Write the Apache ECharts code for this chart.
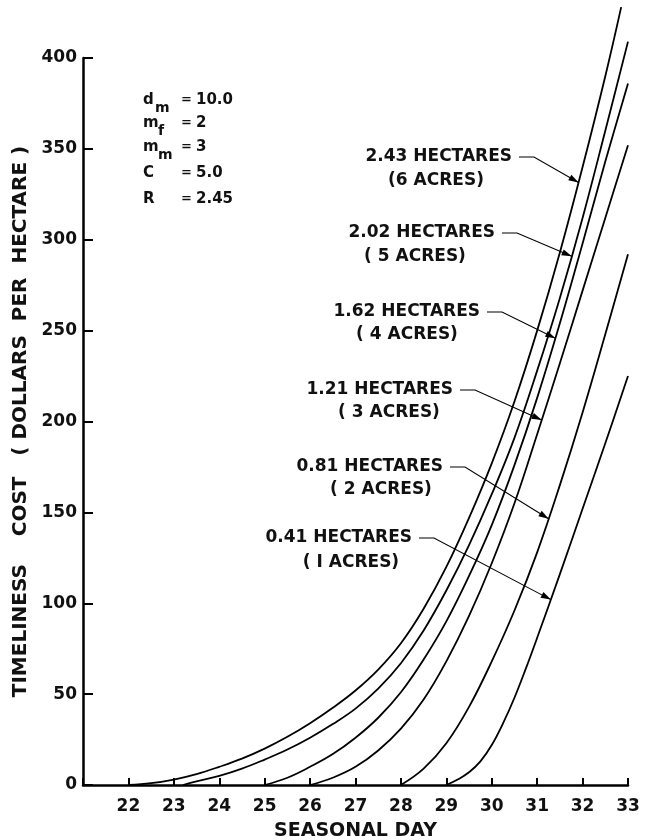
<!DOCTYPE html>
<html><head><meta charset="utf-8">
<script src="https://cdn.jsdelivr.net/npm/echarts@6/dist/echarts.min.js"></script>
<style>html,body{margin:0;padding:0;background:#fff}#c{width:648px;height:840px}</style>
</head><body><div id="c"></div>
<script>
// ---- data ----
const xTicks = [22,23,24,25,26,27,28,29,30,31,32,33];
const yTicks = [0,50,100,150,200,250,300,350,400];
const hectareLabels = ['2.43 HECTARES','2.02 HECTARES','1.62 HECTARES','1.21 HECTARES','0.81 HECTARES','0.41 HECTARES'];
const acreLabels = ['(6 ACRES)','( 5 ACRES)','( 4 ACRES)','( 3 ACRES)','( 2 ACRES)','( I ACRES)'];

const day243  = [22,22.5,23,23.5,24,24.5,25,25.5,26,26.5,27,27.5,28,28.5,29,29.5,30,30.5,31,31.5,32,32.5,32.85];
const cost243 = [0,1,3,6,10,14.5,20,26.5,34,42.5,52,63.5,78,97,120,147,177,211,250,293,340,390,428];
const day202  = [23.2,23.5,24,24.5,25,25.5,26,26.5,27,27.5,28,28.5,29,29.5,30,30.5,31,31.5,32,32.5,33];
const cost202 = [0,2,5,9,14,19.5,26,33.5,42,53,67,85,107,132,160,191,228,268,312,360,409];
const day162  = [25,25.5,26,26.5,27,27.5,28,28.5,29,29.5,30,30.5,31,31.5,32,32.5,33];
const cost162 = [0,4,10,17,26,37,51,69,90,115,143,176,213,254,298,343,386];
const day121  = [26,26.5,27,27.5,28,28.5,29,29.5,30,30.5,31,31.5,32,32.5,33];
const cost121 = [0,4,10,19,31,47,68,93,122,155,193,232,272,312,352];
const day081  = [28,28.5,29,29.5,30,30.5,31,31.5,32,32.5,33];
const cost081 = [0,9,23,43,68,96,128,165,205,248,292];
const day041  = [29,29.25,29.5,29.75,30,30.25,30.5,30.75,31,31.5,32,32.5,33];
const cost041 = [0,3,7,13,22,34,48,64,81,116,152,188,225];

const paramNames = ['d','m','m','C','R'];
const paramSubs  = ['m','f','m','',''];
const paramVals  = ['10.0','2','3','5.0','2.45'];

// ---- build ----
const curves = [[day243,cost243],[day202,cost202],[day162,cost162],[day121,cost121],[day081,cost081],[day041,cost041]];
const tipDays = [31.91,31.76,31.40,31.10,31.25,31.30];

const FONT = 'DejaVu Sans';
const chart = echarts.init(document.getElementById('c'), null, {renderer:'canvas'});

const series = curves.map((c,i)=>({
  type:'line', name:hectareLabels[i],
  data:c[0].map((d,j)=>[d,c[1][j]]),
  showSymbol:false, smooth:0.4, clip:false,
  lineStyle:{color:'#000', width:1.8}, silent:true, z:3
}));

chart.setOption({
  animation:false,
  backgroundColor:'#fff',
  grid:{left:83, right:20, top:58, bottom:55, containLabel:false, outerBoundsMode:'none'},
  xAxis:{
    type:'value', min:21, max:33, interval:1,
    name:'SEASONAL DAY', nameLocation:'middle', nameGap:37,
    nameTextStyle:{fontFamily:FONT, fontSize:19, fontWeight:'bold', color:'#111'},
    axisLine:{lineStyle:{color:'#000', width:2.5}},
    axisTick:{inside:true, length:7, lineStyle:{color:'#000', width:2}},
    axisLabel:{margin:13, fontFamily:FONT, fontSize:17, fontWeight:'bold', color:'#111',
      formatter:v=> xTicks.indexOf(v)>=0 ? String(v) : ''},
    splitLine:{show:false}
  },
  yAxis:{
    type:'value', min:0, max:400, interval:50,
    name:'TIMELINESS    COST   ( DOLLARS  PER  HECTARE )', nameLocation:'middle', nameGap:52, nameRotate:90,
    nameTextStyle:{fontFamily:FONT, fontSize:20, fontWeight:'bold', color:'#111'},
    axisLine:{lineStyle:{color:'#000', width:2.5}},
    axisTick:{inside:true, length:10, lineStyle:{color:'#000', width:2}},
    axisLabel:{margin:6, fontFamily:FONT, fontSize:17, fontWeight:'bold', color:'#111',
      formatter:v=> yTicks.indexOf(v)>=0 ? String(v) : ''},
    splitLine:{show:false}
  },
  series:series
});

// ---- annotations ----
function interp(xs, ys, x){
  for(let i=0;i<xs.length-1;i++){
    if(x>=xs[i] && x<=xs[i+1]){const t=(x-xs[i])/(xs[i+1]-xs[i]);return ys[i]+t*(ys[i+1]-ys[i]);}
  }
  return ys[ys.length-1];
}
// label layout (pixels): right end of first line, its y; centre x of second line, its y
const labelLayout = [
  {r:512, y:157, cx:436, y2:181},
  {r:495, y:233, cx:415, y2:257},
  {r:480, y:312, cx:407, y2:335},
  {r:453, y:390, cx:389, y2:413},
  {r:443, y:467, cx:381, y2:490},
  {r:412, y:538, cx:351, y2:563}
];
const g = [];
const lblFont = 'bold 17px "'+FONT+'"';
curves.forEach((c,i)=>{
  const L = labelLayout[i];
  const tip = chart.convertToPixel({gridIndex:0}, [tipDays[i], interp(c[0],c[1],tipDays[i])]);
  g.push({type:'text', style:{text:hectareLabels[i], x:L.r, y:L.y, align:'right', verticalAlign:'middle', font:lblFont, fill:'#111'}});
  g.push({type:'text', style:{text:acreLabels[i], x:L.cx, y:L.y2, align:'center', verticalAlign:'middle', font:lblFont, fill:'#111'}});
  const h0 = L.r+7, h1 = L.r+22;
  g.push({type:'polyline', shape:{points:[[h0,L.y],[h1,L.y],[tip[0],tip[1]]]}, style:{stroke:'#000', lineWidth:1.1, fill:null}});
  const dx = tip[0]-h1, dy = tip[1]-L.y, len = Math.hypot(dx,dy), ux=dx/len, uy=dy/len;
  const al = 10, aw = 3.2;
  const bx = tip[0]-ux*al, by = tip[1]-uy*al;
  g.push({type:'polygon', shape:{points:[[tip[0],tip[1]],[bx-uy*aw,by+ux*aw],[bx+uy*aw,by-ux*aw]]}, style:{fill:'#000'}});
});
// parameter block
const pY = [100,123,147,173,199];
paramNames.forEach((n,i)=>{
  g.push({type:'text', style:{text:n, x:143, y:pY[i], verticalAlign:'middle', font:'bold 15px "'+FONT+'"', fill:'#111'}});
  if(paramSubs[i]) g.push({type:'text', style:{text:paramSubs[i], x:(n==='d'?155:158), y:pY[i]+8, verticalAlign:'middle', font:'bold 14px "'+FONT+'"', fill:'#111'}});
  g.push({type:'text', style:{text:'=', x:181, y:pY[i], verticalAlign:'middle', font:'bold 13px "'+FONT+'"', fill:'#111'}});
  g.push({type:'text', style:{text:paramVals[i], x:196, y:pY[i], verticalAlign:'middle', font:'bold 15px "'+FONT+'"', fill:'#111'}});
});
chart.setOption({graphic:{elements:g}});
</script>
</body></html>
